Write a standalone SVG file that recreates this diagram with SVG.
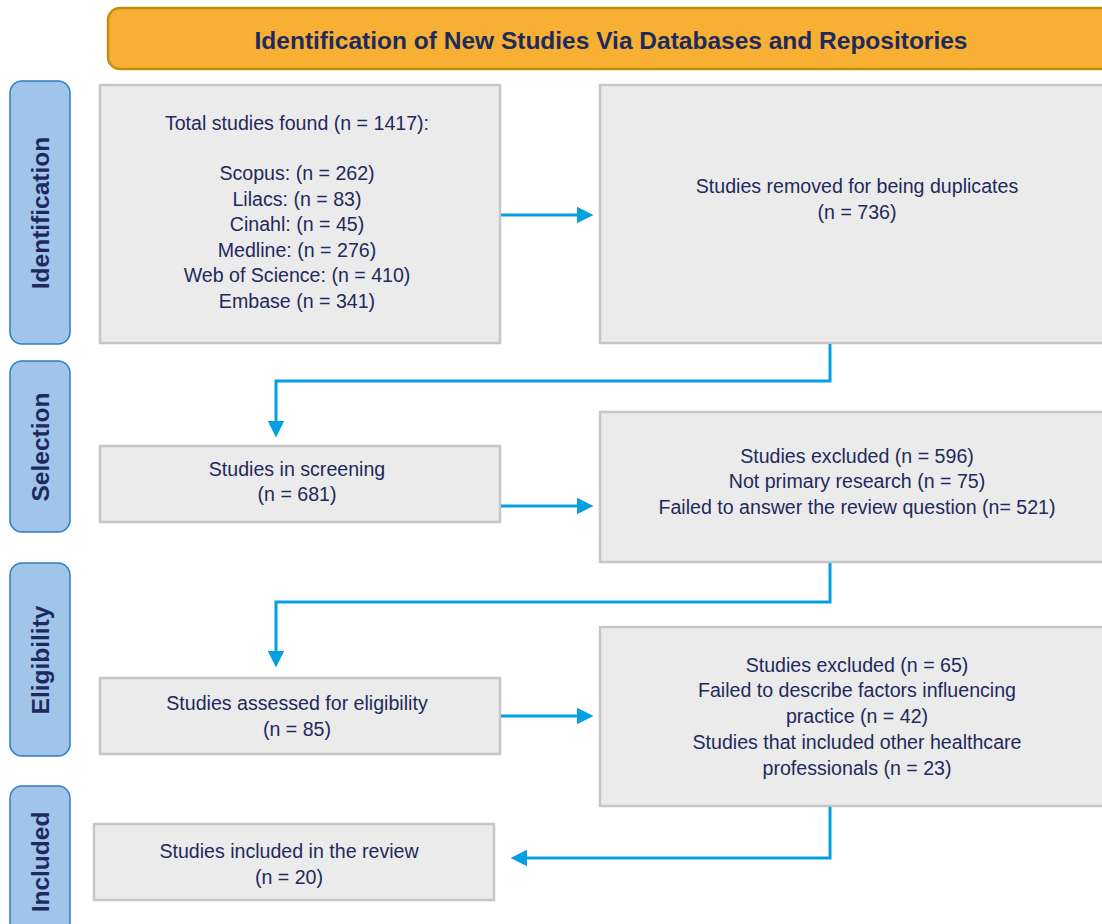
<svg xmlns="http://www.w3.org/2000/svg" width="1102" height="924" viewBox="0 0 1102 924">
<defs>
<marker id="ah" viewBox="0 0 10 10" refX="0" refY="5" markerWidth="5.5" markerHeight="5.5" markerUnits="strokeWidth" orient="auto">
<path d="M0,0 L10,5 L0,10 z" fill="#069fe2"/>
</marker>
<style>
.box{fill:#ebebeb;stroke:#c6c6c6;stroke-width:2.5}
.side{fill:#a0c5e8;stroke:#2d7dc0;stroke-width:1.5}
.t{font-family:"Liberation Sans",Arial,sans-serif;font-size:19.6px;fill:#1f2a5c;text-anchor:middle}
.st{font-family:"Liberation Sans",Arial,sans-serif;font-size:24.5px;font-weight:bold;fill:#1f2a5c;text-anchor:middle}
.conn{fill:none;stroke:#069fe2;stroke-width:3}
</style>
</defs>
<rect width="1102" height="924" fill="#ffffff"/>
<g id="header">
<rect x="108" y="8" width="1010" height="61" rx="12" fill="#f7b034" stroke="#c38e0c" stroke-width="2.5"/>
<text x="611" y="49" class="st" font-size="25.6">Identification of New Studies Via Databases and Repositories</text>
</g>
<g id="side-identification">
<rect x="10" y="81" width="60" height="263" rx="12" class="side"/>
<text class="st" transform="translate(49,213) rotate(-90)">Identification</text>
</g>
<g id="side-selection">
<rect x="10" y="361" width="60" height="171" rx="12" class="side"/>
<text class="st" transform="translate(49,447) rotate(-90)">Selection</text>
</g>
<g id="side-eligibility">
<rect x="10" y="563" width="60" height="193" rx="12" class="side"/>
<text class="st" transform="translate(49,660) rotate(-90)">Eligibility</text>
</g>
<g id="side-included">
<rect x="10" y="786" width="60" height="160" rx="12" class="side"/>
<text class="st" transform="translate(49,862) rotate(-90)">Included</text>
</g>
<g id="total">
<rect x="100" y="85" width="400" height="258" class="box"/>
<text class="t" x="297" y="130">Total studies found (n = 1417):</text>
<text class="t" x="297" y="180">Scopus: (n = 262)</text>
<text class="t" x="297" y="206">Lilacs: (n = 83)</text>
<text class="t" x="297" y="231">Cinahl: (n = 45)</text>
<text class="t" x="297" y="257">Medline: (n = 276)</text>
<text class="t" x="297" y="282">Web of Science: (n = 410)</text>
<text class="t" x="297" y="308">Embase (n = 341)</text>
</g>
<g id="duplicates">
<rect x="600" y="85" width="520" height="258" class="box"/>
<text class="t" x="857" y="193">Studies removed for being duplicates</text>
<text class="t" x="857" y="219">(n = 736)</text>
</g>
<g id="screening">
<rect x="100" y="446" width="400" height="76" class="box"/>
<text class="t" x="297" y="476">Studies in screening</text>
<text class="t" x="297" y="501">(n = 681)</text>
</g>
<g id="excluded1">
<rect x="600" y="412" width="520" height="150" class="box"/>
<text class="t" x="857" y="463">Studies excluded (n = 596)</text>
<text class="t" x="857" y="488">Not primary research (n = 75)</text>
<text class="t" x="857" y="514">Failed to answer the review question (n= 521)</text>
</g>
<g id="eligibility">
<rect x="100" y="678" width="400" height="76" class="box"/>
<text class="t" x="297" y="710">Studies assessed for eligibility</text>
<text class="t" x="297" y="736">(n = 85)</text>
</g>
<g id="excluded2">
<rect x="600" y="627" width="520" height="179" class="box"/>
<text class="t" x="857" y="672">Studies excluded (n = 65)</text>
<text class="t" x="857" y="697">Failed to describe factors influencing</text>
<text class="t" x="857" y="723">practice (n = 42)</text>
<text class="t" x="857" y="749">Studies that included other healthcare</text>
<text class="t" x="857" y="775">professionals (n = 23)</text>
</g>
<g id="included">
<rect x="94" y="824" width="400" height="76" class="box"/>
<text class="t" x="289" y="858">Studies included in the review</text>
<text class="t" x="289" y="884">(n = 20)</text>
</g>
<g id="connectors">
<path class="conn" d="M501,215 H577" marker-end="url(#ah)"/>
<path class="conn" d="M830,344 V381 H276 V421" marker-end="url(#ah)"/>
<path class="conn" d="M501,506 H577" marker-end="url(#ah)"/>
<path class="conn" d="M830,563 V602 H276 V651" marker-end="url(#ah)"/>
<path class="conn" d="M501,716 H577" marker-end="url(#ah)"/>
<path class="conn" d="M830,807 V858 H527" marker-end="url(#ah)"/>
</g>
</svg>
